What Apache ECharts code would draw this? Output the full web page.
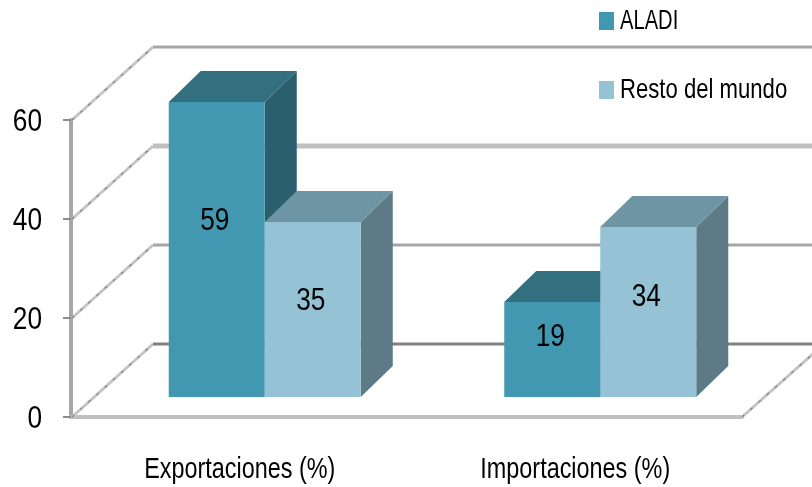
<!DOCTYPE html>
<html>
<head>
<meta charset="utf-8">
<style>
  html, body { margin: 0; padding: 0; background: #fff; }
  #chart { width: 812px; height: 487px; }
</style>
<script src="https://cdn.jsdelivr.net/npm/echarts@6/dist/echarts.min.js"></script>
</head>
<body>
<div id="chart"></div>
<script>
const categories = ['Exportaciones (%)', 'Importaciones (%)']
const seriesNames = ['ALADI', 'Resto del mundo']
const aladi = [59, 19]
const restoMundo = [35, 34]
const yTicks = [0, 20, 40, 60]

const FONT = '"Liberation Sans", Arial, sans-serif'
// 3D look: depth of the walls and of the bars, in pixels
const WALL_DX = 82
const WALL_DY = 73
const BAR_W = 96
const BAR_DX = 32
const BAR_DY = 31
const BAR_SHIFT_X = 26
const BAR_SHIFT_Y = 20
const BAR_SCALE = 1.01
// data labels sit a bit above the middle of the front face, not the same on each bar
const aladiLabelShift = [-28, -12]
const restoLabelShift = [-8, -15]
const LABEL_SHIFT_X = -2
const wallStyle = [
  { color: '#808080', width: 3 },
  { color: '#a6a6a6', width: 3 },
  { color: '#c0c0c0', width: 5 },
  { color: '#a6a6a6', width: 3 },
]

// the original text is squeezed horizontally, plain font options cannot do that
function squeezedText(text, x, y, size, squeeze, align) {
  return {
    type: 'text',
    x: x,
    y: y,
    scaleX: squeeze,
    style: {
      text: text,
      align: align,
      verticalAlign: 'middle',
      fill: '#000',
      font: size + 'px ' + FONT,
    },
  }
}

function slantLine(x1, y1, x2, y2) {
  return [
    {
      type: 'line',
      shape: { x1, y1, x2, y2 },
      style: { stroke: '#c4c4c4', lineWidth: 3 },
    },
    {
      type: 'line',
      shape: { x1, y1, x2, y2 },
      style: { stroke: '#858585', lineWidth: 1.2, lineDash: [3, 8] },
    },
  ]
}

function renderWall(params, api) {
  const cs = params.coordSys
  const x0 = cs.x
  const value = api.value(0)
  const y = api.coord([0, value])[1]
  const style = wallStyle[params.dataIndex]
  let children = slantLine(x0 + 1, y, x0 + WALL_DX, y - WALL_DY)
  children.push({
    type: 'line',
    shape: { x1: x0 + WALL_DX, y1: y - WALL_DY, x2: 812, y2: y - WALL_DY },
    style: { stroke: style.color, lineWidth: style.width },
  })
  // right edge of the floor
  if (value === 0) {
    children = children.concat(slantLine(x0 + cs.width, y, x0 + cs.width + WALL_DX, y - WALL_DY))
  }
  children.push(squeezedText(String(value), 42, y + 2, 32, 0.82, 'right'))
  return { type: 'group', children }
}

function renderCategory(params, api) {
  const zero = api.coord([params.dataIndex, 0])
  return squeezedText(categories[params.dataIndex], zero[0] + 1, 470, 30, 0.78, 'center')
}

function barRenderer(side, colors, labelShift) {
  return function (params, api) {
    const zero = api.coord([api.value(0), 0])
    const top = api.coord([api.value(0), api.value(1)])
    const left = zero[0] + BAR_SHIFT_X + (side === 0 ? -BAR_W : 0)
    const right = left + BAR_W
    const base = zero[1] - BAR_SHIFT_Y
    const head = base - (zero[1] - top[1]) * BAR_SCALE
    return {
      type: 'group',
      children: [
        {
          type: 'polygon',
          shape: { points: [[right, head], [right + BAR_DX, head - BAR_DY], [right + BAR_DX, base - BAR_DY], [right, base]] },
          style: { fill: colors.side },
        },
        {
          type: 'polygon',
          shape: { points: [[left, head], [left + BAR_DX, head - BAR_DY], [right + BAR_DX, head - BAR_DY], [right, head]] },
          style: { fill: colors.top },
        },
        {
          type: 'rect',
          shape: { x: left, y: head, width: BAR_W, height: base - head },
          style: { fill: colors.front },
        },
        squeezedText(String(api.value(1)), (left + right) / 2 + LABEL_SHIFT_X, (head + base) / 2 + labelShift[params.dataIndex], 32, 0.82, 'center'),
      ],
    }
  }
}

const chartInstance = echarts.init(document.getElementById('chart'))
chartInstance.setOption({
  animation: false,
  backgroundColor: '#fff',
  grid: { left: 71, top: 120, width: 671, height: 297 },
  legend: {
    left: 599,
    top: 12,
    padding: 0,
    orient: 'vertical',
    itemWidth: 15,
    itemHeight: 18,
    itemGap: 51,
    icon: 'rect',
    data: seriesNames,
    formatter: () => '',
  },
  graphic: [
    Object.assign(squeezedText(seriesNames[0], 620, 21, 28, 0.72, 'left'), { z: 10 }),
    Object.assign(squeezedText(seriesNames[1], 620, 90, 28, 0.79, 'left'), { z: 10 }),
  ],
  xAxis: {
    type: 'category',
    data: categories,
    axisLine: { lineStyle: { color: '#c0c0c0', width: 4 } },
    axisTick: { length: 9, alignWithLabel: false, lineStyle: { color: '#a0a0a0', width: 2 } },
    axisLabel: { show: false },
  },
  yAxis: {
    type: 'value',
    min: 0,
    max: 60,
    interval: 20,
    splitLine: { show: false },
    axisLine: { show: true, lineStyle: { color: '#a6a6a6', width: 4 } },
    axisTick: { show: true, length: 8, lineStyle: { color: '#8c8c8c', width: 2 } },
    axisLabel: { show: false },
  },
  series: [
    {
      type: 'custom',
      name: 'wall',
      renderItem: renderWall,
      data: yTicks.map(v => [v]),
      encode: { y: 0 },
      silent: true,
      z: 1,
    },
    {
      type: 'custom',
      name: 'axisText',
      renderItem: renderCategory,
      data: categories.map((c, i) => [i]),
      encode: { x: 0 },
      silent: true,
      z: 1,
    },
    {
      type: 'custom',
      name: seriesNames[0],
      itemStyle: { color: '#4198b0' },
      renderItem: barRenderer(0, { front: '#4198b0', top: '#33707f', side: '#2a5f6d' }, aladiLabelShift),
      data: aladi.map((v, i) => [i, v]),
      encode: { x: 0, y: 1 },
      z: 2,
    },
    {
      type: 'custom',
      name: seriesNames[1],
      itemStyle: { color: '#95c3d5' },
      renderItem: barRenderer(1, { front: '#95c3d5', top: '#6e95a3', side: '#5d7a86' }, restoLabelShift),
      data: restoMundo.map((v, i) => [i, v]),
      encode: { x: 0, y: 1 },
      z: 3,
    },
  ],
})
</script>
</body>
</html>
